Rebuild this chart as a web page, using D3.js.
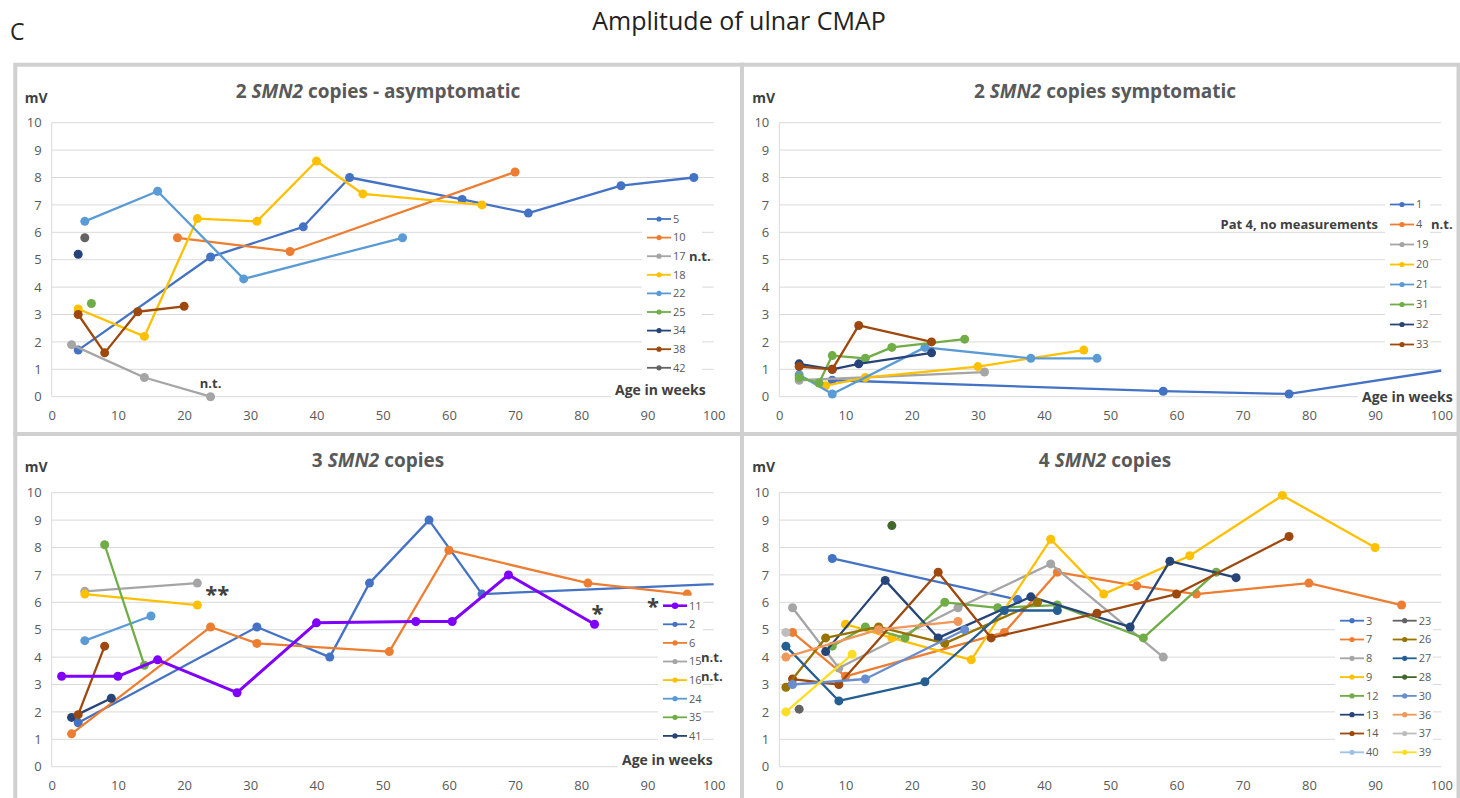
<!DOCTYPE html>
<html>
<head>
<meta charset="utf-8">
<script src="https://cdn.jsdelivr.net/npm/d3@7"></script>
<style>
body { margin: 0; background: #fff; }
svg { display: block; font-family: "Open Sans", sans-serif; }
</style>
</head>
<body>
<svg id="chart" width="1460" height="798"></svg>
<script>
// axis ticks
var weekTicks = [0, 10, 20, 30, 40, 50, 60, 70, 80, 90, 100];
var mvTicks = [0, 1, 2, 3, 4, 5, 6, 7, 8, 9, 10];

// 2 SMN2 copies - asymptomatic  [week, mV]
var asymIds = ["5", "10", "17", "18", "22", "25", "34", "38", "42"];
var asymPts = [
    [[4, 1.7], [24, 5.1], [38, 6.2], [45, 8.0], [62, 7.2], [72, 6.7], [86, 7.7], [97, 8.0]],
    [[19, 5.8], [36, 5.3], [70, 8.2]],
    [[3, 1.9], [14, 0.7], [24, 0]],
    [[4, 3.2], [14, 2.2], [22, 6.5], [31, 6.4], [40, 8.6], [47, 7.4], [65, 7.0]],
    [[5, 6.4], [16, 7.5], [29, 4.3], [53, 5.8]],
    [[6, 3.4]],
    [[4, 5.2]],
    [[4, 3.0], [8, 1.6], [13, 3.1], [20, 3.3]],
    [[5, 5.8]]
];

// 2 SMN2 copies symptomatic
var sympIds = ["1", "4", "19", "20", "21", "31", "32", "33"];
var sympPts = [
    [[8, 0.6], [58, 0.2], [77, 0.1], [104, 1.1]],
    [],
    [[3, 0.6], [31, 0.9]],
    [[7, 0.4], [13, 0.7], [30, 1.1], [46, 1.7]],
    [[3, 0.8], [8, 0.1], [22, 1.8], [38, 1.4], [48, 1.4]],
    [[3, 0.7], [6, 0.5], [8, 1.5], [13, 1.4], [17, 1.8], [28, 2.1]],
    [[3, 1.2], [8, 1.0], [12, 1.2], [23, 1.6]],
    [[3, 1.1], [8, 1.0], [12, 2.6], [23, 2.0]]
];

// 3 SMN2 copies (the brown series has no legend entry)
var three_ids = ["2", "6", "15", "16", "24", "35", "41", "", "11"];
var three_pts = [
    [[4, 1.6], [31, 5.1], [42, 4.0], [48, 6.7], [57, 9.0], [65, 6.3], [110, 6.77]],
    [[3, 1.2], [24, 5.1], [31, 4.5], [51, 4.2], [60, 7.9], [81, 6.7], [96, 6.3]],
    [[5, 6.4], [22, 6.7]],
    [[5, 6.3], [22, 5.9]],
    [[5, 4.6], [15, 5.5]],
    [[8, 8.1], [14, 3.7]],
    [[3, 1.8], [9, 2.5]],
    [[4, 1.9], [8, 4.4]],
    [[1.5, 3.3], [10, 3.3], [16, 3.9], [28, 2.7], [40, 5.25], [55, 5.3], [60.5, 5.3], [69, 7.0], [82, 5.2]]
];
var threeLegend = ["11", "2", "6", "15", "16", "24", "35", "41"];

// 4 SMN2 copies
var fourIds = ["3", "7", "8", "9", "12", "13", "14", "40", "23", "26", "27", "28", "30", "36", "37", "39"];
var fourPts = [
    [[8, 7.6], [36, 6.1]],
    [[2, 4.9], [10, 3.3], [34, 4.9], [42, 7.1], [54, 6.6], [63, 6.3], [80, 6.7], [94, 5.9]],
    [[2, 5.8], [9, 3.6], [27, 5.8], [41, 7.4], [58, 4.0]],
    [[10, 5.2], [17, 4.7], [29, 3.9], [41, 8.3], [49, 6.3], [62, 7.7], [76, 9.9], [90, 8.0]],
    [[8, 4.4], [13, 5.1], [19, 4.7], [25, 6.0], [33, 5.8], [42, 5.9], [55, 4.7], [66, 7.1]],
    [[7, 4.2], [16, 6.8], [24, 4.7], [38, 6.2], [53, 5.1], [59, 7.5], [69, 6.9]],
    [[2, 3.2], [9, 3.0], [24, 7.1], [32, 4.7], [48, 5.6], [60, 6.3], [77, 8.4]],
    [],
    [[3, 2.1]],
    [[1, 2.9], [7, 4.7], [15, 5.1], [25, 4.5], [39, 6.0]],
    [[1, 4.4], [9, 2.4], [22, 3.1], [34, 5.7], [42, 5.7]],
    [[17, 8.8]],
    [[2, 3.0], [13, 3.2], [28, 5.0]],
    [[1, 4.0], [15, 5.0], [27, 5.3]],
    [[1, 4.9]],
    [[1, 2.0], [11, 4.1]]
];

var colors = {
    blue: "#4472C4", orange: "#ED7D31", gray: "#A5A5A5", gold: "#FFC000",
    lblue: "#5B9BD5", green: "#70AD47", navy: "#264478", brown: "#9E480E",
    dgray: "#636363", olive: "#997300", mblue: "#255E91", dgreen: "#43682B",
    vblue: "#698ED0", lorange: "#F1975A", lgray: "#BDBDBD", lemon: "#FFDD22",
    pale: "#9DC3E6", purple: "#7F00FF"
};
var asymCol = ["blue", "orange", "gray", "gold", "lblue", "green", "navy", "brown", "dgray"];
var sympCol = ["blue", "orange", "gray", "gold", "lblue", "green", "navy", "brown"];
var threeCol = ["blue", "orange", "gray", "gold", "lblue", "green", "navy", "brown", "purple"];
var fourCol = ["blue", "orange", "gray", "gold", "green", "navy", "brown", "pale",
    "dgray", "olive", "mblue", "dgreen", "vblue", "lorange", "lgray", "lemon"];

var svg = d3.select("#chart");
var textCol = "#595959";

svg.append("text").attr("x", 10).attr("y", 40).attr("font-size", 23).attr("fill", "#222").text("C");
svg.append("text").attr("x", 739).attr("y", 30).attr("font-size", 25).attr("fill", "#222")
    .attr("text-anchor", "middle").text("Amplitude of ulnar CMAP");

// panel frames
var frames = [[15.3, 64.7, 726.7, 369.3], [742, 64.7, 716.5, 369.3], [15.3, 434, 726.7, 370], [742, 434, 716.5, 370]];
frames.forEach(function(f) {
    svg.append("rect").attr("x", f[0]).attr("y", f[1]).attr("width", f[2]).attr("height", f[3])
        .attr("fill", "#fff").attr("stroke", "#D0D0D0").attr("stroke-width", 4);
});

function drawPanel(p) {
    var g = svg.append("g");
    var x = d3.scaleLinear().domain([0, 100]).range([p.x0, p.x0 + 662]);
    var y = d3.scaleLinear().domain([0, 10]).range([p.y0, p.y0 - 274]);

    // grid
    g.selectAll(".grid").data(mvTicks).enter().append("line")
        .attr("x1", x(0)).attr("x2", x(100))
        .attr("y1", d => y(d)).attr("y2", d => y(d))
        .attr("stroke", "#D9D9D9").attr("stroke-width", 1);
    g.append("line").attr("x1", x(0)).attr("x2", x(0)).attr("y1", y(0)).attr("y2", y(10))
        .attr("stroke", "#D9D9D9");

    var ya = g.append("g").attr("transform", "translate(" + x(0) + ",0)")
        .call(d3.axisLeft(y).tickValues(mvTicks).tickSize(0).tickPadding(10));
    var xa = g.append("g").attr("transform", "translate(0," + y(0) + ")")
        .call(d3.axisBottom(x).tickValues(weekTicks).tickSize(0).tickPadding(14));
    [ya, xa].forEach(function(a) {
        a.select(".domain").remove();
        a.selectAll("text").attr("font-size", 13).attr("fill", textCol).attr("font-family", "Open Sans");
    });

    // titles
    var t = g.append("text").attr("x", p.cx).attr("y", p.titleY).attr("text-anchor", "middle")
        .attr("font-size", 19).attr("font-weight", "bold").attr("fill", textCol);
    t.append("tspan").text(p.title[0]);
    t.append("tspan").attr("font-style", "italic").text(p.title[1]);
    t.append("tspan").text(p.title[2]);
    g.append("text").attr("x", p.x0 - 27).attr("y", p.titleY + 5).attr("font-size", 14)
        .attr("font-weight", "bold").attr("fill", "#404040").text("mV");

    // series
    var clipId = "clip" + p.key;
    svg.append("clipPath").attr("id", clipId).append("rect")
        .attr("x", x(0)).attr("y", y(10) - 6).attr("width", 662).attr("height", 285);
    var sg = g.append("g").attr("clip-path", "url(#" + clipId + ")");
    var line = d3.line().x(d => x(d[0])).y(d => y(d[1]));
    p.pts.forEach(function(pts, i) {
        var c = colors[p.cols[i]];
        var w = p.cols[i] == "purple" ? 3 : 2.3;
        sg.append("path").datum(pts).attr("d", line).attr("fill", "none")
            .attr("stroke", c).attr("stroke-width", w).attr("stroke-linejoin", "round");
        sg.selectAll(null).data(pts).enter().append("circle")
            .attr("cx", d => x(d[0])).attr("cy", d => y(d[1])).attr("r", 4.5).attr("fill", c);
    });

    // "Age in weeks"
    if (p.ageX) {
        g.append("rect").attr("x", p.ageX - 4).attr("y", p.ageY - 15).attr("width", x(100) - p.ageX + 6)
            .attr("height", 20).attr("fill", "#fff");
        g.append("text").attr("x", p.ageX).attr("y", p.ageY).attr("font-size", 14).attr("font-weight", "bold")
            .attr("fill", "#404040").text("Age in weeks");
    }

    // legend
    var lg = g.append("g");
    lg.append("rect").attr("x", p.leg.x - 5).attr("y", p.leg.y - 10).attr("width", p.leg.w)
        .attr("height", p.leg.step * p.leg.rows + 2).attr("fill", "#fff");
    p.leg.items.forEach(function(it, k) {
        var col = Math.floor(k / p.leg.rows), row = k % p.leg.rows;
        var lx = p.leg.x + col * p.leg.colW, ly = p.leg.y + row * p.leg.step;
        var c = colors[it.col];
        lg.append("line").attr("x1", lx).attr("x2", lx + 24).attr("y1", ly).attr("y2", ly)
            .attr("stroke", c).attr("stroke-width", it.col == "purple" ? 2.6 : 1.8);
        lg.append("circle").attr("cx", lx + 12).attr("cy", ly).attr("r", it.col == "purple" ? 3.2 : 2.6).attr("fill", c);
        lg.append("text").attr("x", lx + 26).attr("y", ly).attr("dy", "0.35em").attr("font-size", 11)
            .attr("fill", textCol).text(it.id);
    });
    return { g: g, x: x, y: y };
}

function note(g, px, py, txt, size, anchor) {
    g.append("text").attr("x", px).attr("y", py).attr("font-size", size || 13).attr("font-weight", "bold")
        .attr("text-anchor", anchor || "start").attr("fill", "#404040").text(txt);
}

function legendItems(ids, cols) {
    return ids.map(function(id, i) { return { id: id, col: cols[i] }; });
}

var p1 = drawPanel({
    key: 1, x0: 51.7, y0: 396.7, cx: 378, titleY: 98,
    title: ["2 ", "SMN2", " copies - asymptomatic"],
    pts: asymPts, cols: asymCol, ageX: 615, ageY: 395,
    leg: { x: 647, y: 219, step: 18.6, rows: 9, colW: 0, w: 60, items: legendItems(asymIds, asymCol) }
});
note(p1.g, p1.x(24), p1.y(0) - 9, "n.t.", 13, "middle");
note(p1.g, 689, 261, "n.t.");

var p2 = drawPanel({
    key: 2, x0: 779.3, y0: 396.7, cx: 1105, titleY: 98,
    title: ["2 ", "SMN2", " copies symptomatic"],
    pts: sympPts, cols: sympCol, ageX: 1362, ageY: 402,
    leg: { x: 1390, y: 204.5, step: 20, rows: 8, colW: 0, w: 45, items: legendItems(sympIds, sympCol) }
});
note(p2.g, 1431, 229, "n.t.");
note(p2.g, 1378, 229, "Pat 4, no measurements", 13, "end");

var threeLegCols = ["purple", "blue", "orange", "gray", "gold", "lblue", "green", "navy"];
var p3 = drawPanel({
    key: 3, x0: 51.7, y0: 766.7, cx: 378, titleY: 466.5,
    title: ["3 ", "SMN2", " copies"],
    pts: three_pts, cols: threeCol, ageX: 622, ageY: 765,
    leg: { x: 663, y: 605.7, step: 18.6, rows: 8, colW: 0, w: 45, items: legendItems(threeLegend, threeLegCols) }
});
note(p3.g, 701, 662, "n.t.");
note(p3.g, 701, 681, "n.t.");
note(p3.g, p3.x(22) + 8, p3.y(5.9) - 3, "**", 22);
note(p3.g, p3.x(82) + 3, p3.y(5.2) - 3, "*", 22, "middle");
note(p3.g, 653, 614, "*", 22, "middle");

var p4 = drawPanel({
    key: 4, x0: 779.3, y0: 766.7, cx: 1105, titleY: 466.5,
    title: ["4 ", "SMN2", " copies"],
    pts: fourPts, cols: fourCol, ageX: 0, ageY: 0,
    leg: { x: 1340, y: 620.7, step: 18.8, rows: 8, colW: 52.7, w: 98, items: legendItems(fourIds, fourCol) }
});
</script>
</body>
</html>
